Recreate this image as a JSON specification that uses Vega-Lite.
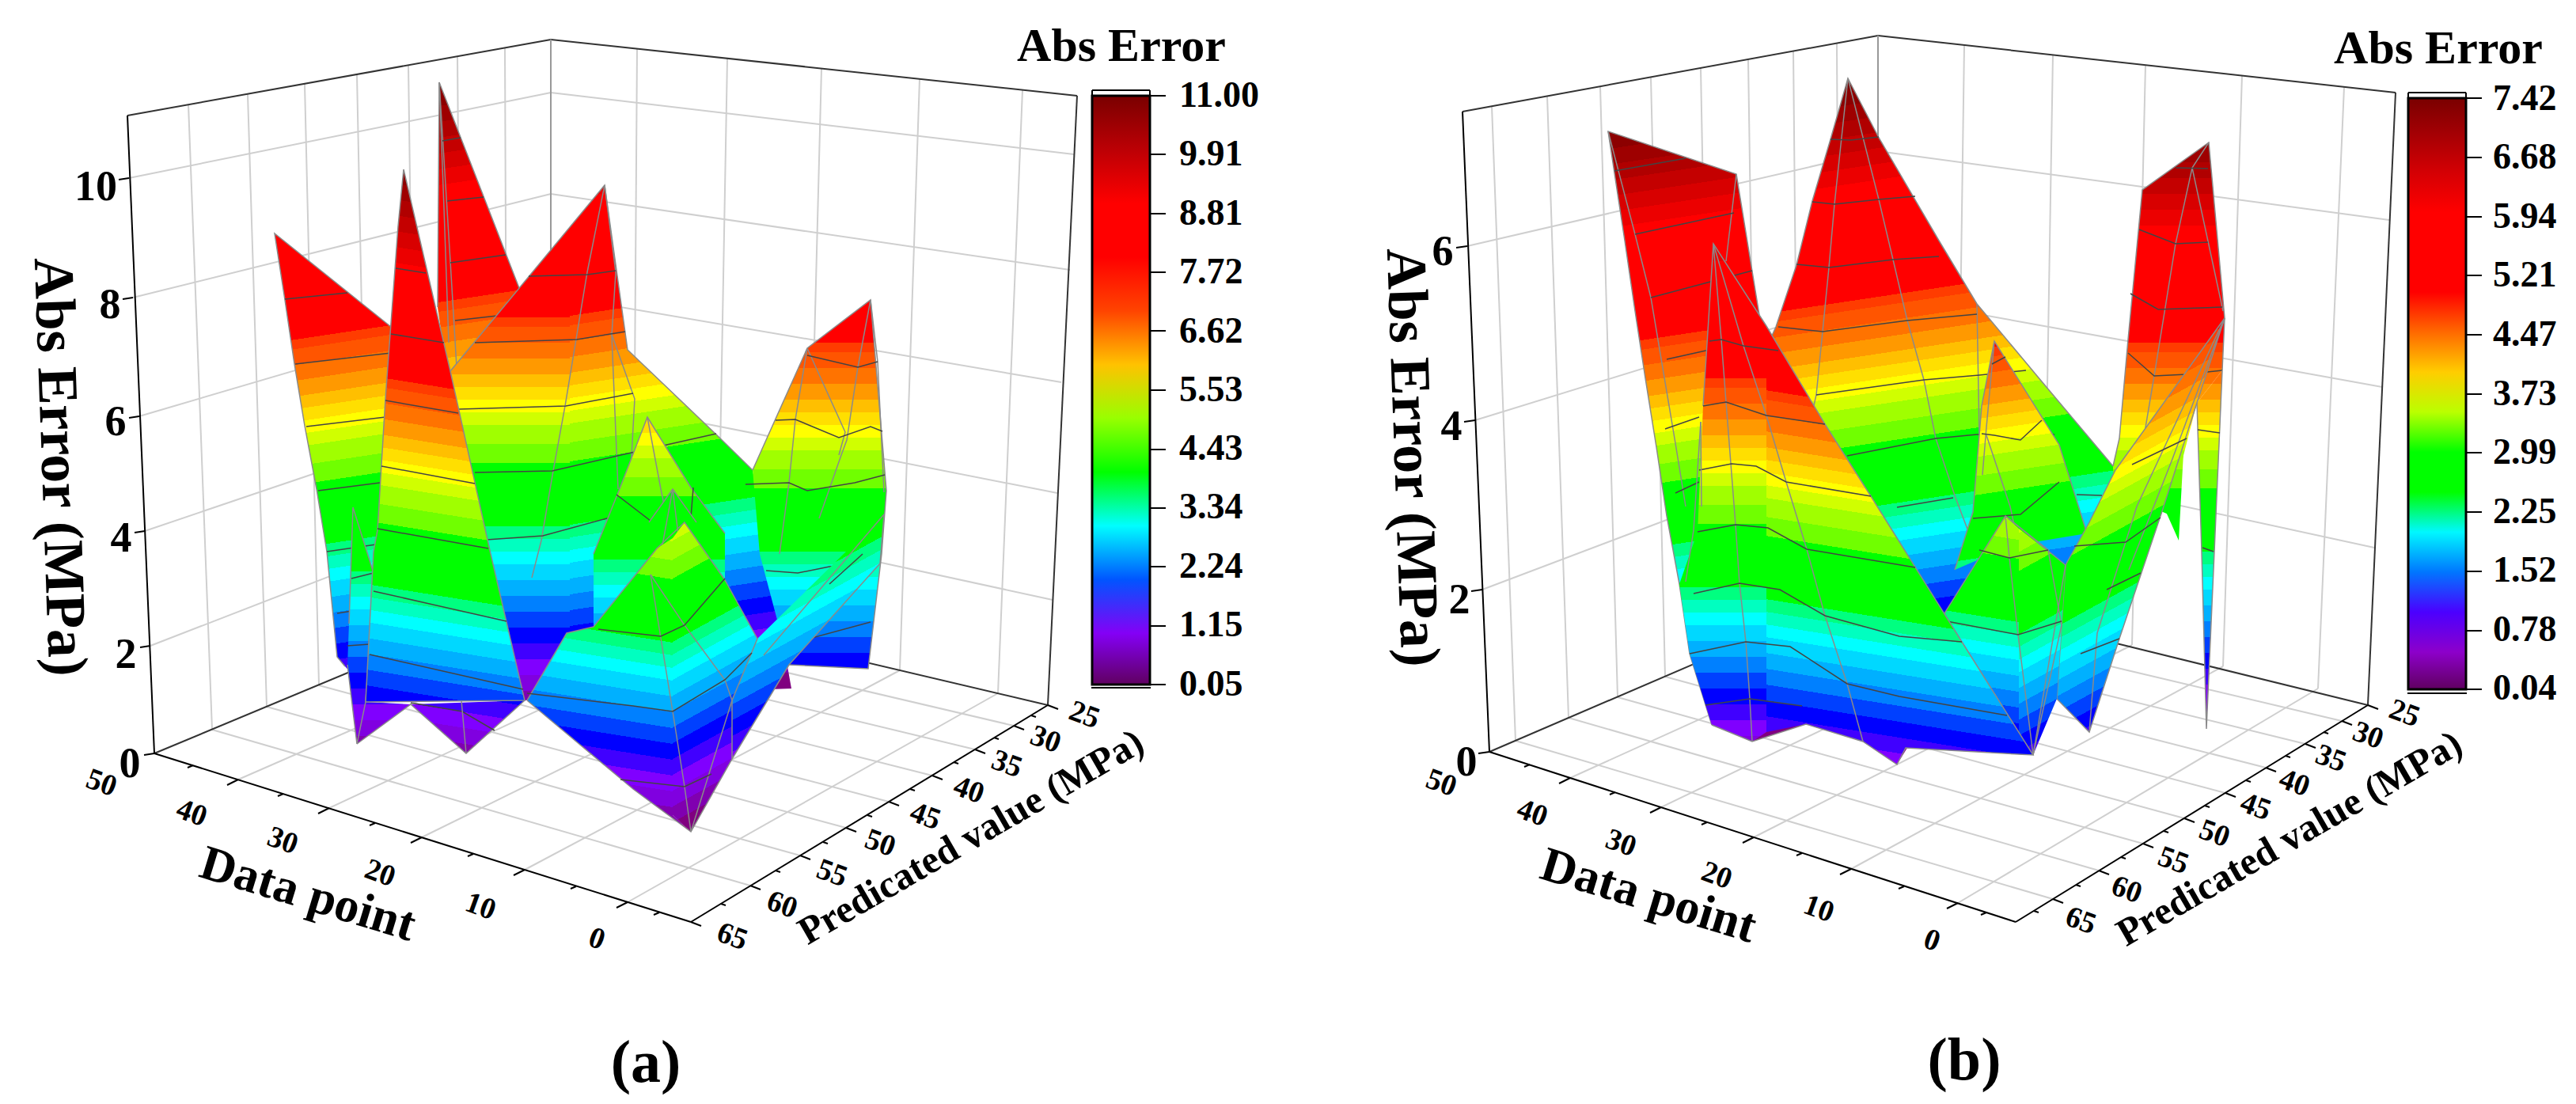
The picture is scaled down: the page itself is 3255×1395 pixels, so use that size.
{"$schema":"https://vega.github.io/schema/vega-lite/v6.json","width":3255,"height":1395,"padding":0,"autosize":{"type":"none"},"background":"white","view":{"stroke":null},
"params":[{"name":"st","expr":"[{offset:0,color:'#7a0000'},{offset:0.025,color:'#7a0000'},{offset:0.025,color:'#8c0000'},{offset:0.05,color:'#8c0000'},{offset:0.05,color:'#9e0000'},{offset:0.075,color:'#9e0000'},{offset:0.075,color:'#b00000'},{offset:0.1,color:'#b00000'},{offset:0.1,color:'#c40000'},{offset:0.125,color:'#c40000'},{offset:0.125,color:'#d80000'},{offset:0.15,color:'#d80000'},{offset:0.15,color:'#ec0000'},{offset:0.175,color:'#ec0000'},{offset:0.175,color:'#ff0000'},{offset:0.36,color:'#ff0000'},{offset:0.36,color:'#ff3c00'},{offset:0.375,color:'#ff3c00'},{offset:0.375,color:'#ff5500'},{offset:0.4,color:'#ff5500'},{offset:0.4,color:'#ff7300'},{offset:0.425,color:'#ff7300'},{offset:0.425,color:'#ff9900'},{offset:0.45,color:'#ff9900'},{offset:0.45,color:'#ffbf00'},{offset:0.47,color:'#ffbf00'},{offset:0.47,color:'#ffdf00'},{offset:0.49,color:'#ffdf00'},{offset:0.49,color:'#ffff00'},{offset:0.51,color:'#ffff00'},{offset:0.51,color:'#d0ff00'},{offset:0.53,color:'#d0ff00'},{offset:0.53,color:'#a0ff00'},{offset:0.56,color:'#a0ff00'},{offset:0.56,color:'#70ff00'},{offset:0.59,color:'#70ff00'},{offset:0.59,color:'#00ff00'},{offset:0.69,color:'#00ff00'},{offset:0.69,color:'#00ff80'},{offset:0.71,color:'#00ff80'},{offset:0.71,color:'#00ffc0'},{offset:0.73,color:'#00ffc0'},{offset:0.73,color:'#00ffff'},{offset:0.75,color:'#00ffff'},{offset:0.75,color:'#00d8ff'},{offset:0.775,color:'#00d8ff'},{offset:0.775,color:'#00b0ff'},{offset:0.8,color:'#00b0ff'},{offset:0.8,color:'#0080ff'},{offset:0.825,color:'#0080ff'},{offset:0.825,color:'#0040ff'},{offset:0.85,color:'#0040ff'},{offset:0.85,color:'#0000ff'},{offset:0.875,color:'#0000ff'},{offset:0.875,color:'#4000ff'},{offset:0.9,color:'#4000ff'},{offset:0.9,color:'#8000ff'},{offset:0.925,color:'#8000ff'},{offset:0.925,color:'#8000e0'},{offset:0.95,color:'#8000e0'},{offset:0.95,color:'#8000b0'},{offset:0.975,color:'#8000b0'},{offset:0.975,color:'#800080'},{offset:1,color:'#800080'}]"}],
"encoding":{"x":{"field":"x","type":"quantitative","scale":{"domain":[0,3255]},"axis":null},"y":{"field":"y","type":"quantitative","scale":{"domain":[1395,0]},"axis":null}},
"layer":[
{"data":{"values":[
{"k":"g","x":163,"y":225,"x2":696,"y2":117},{"k":"g","x":168,"y":376,"x2":696,"y2":245},{"k":"g","x":176,"y":526,"x2":696,"y2":373},{"k":"g","x":183,"y":671,"x2":696,"y2":497},{"k":"g","x":190,"y":816,"x2":696,"y2":620},
{"k":"g","x":696,"y":117,"x2":1357,"y2":195},{"k":"g","x":696,"y":245,"x2":1352,"y2":341},{"k":"g","x":696,"y":373,"x2":1341,"y2":483},{"k":"g","x":696,"y":497,"x2":1336,"y2":623},{"k":"g","x":696,"y":620,"x2":1330,"y2":758},
{"k":"g","x":238,"y":132,"x2":268,"y2":922},{"k":"g","x":313,"y":119,"x2":337,"y2":893},{"k":"g","x":385,"y":106,"x2":403,"y2":866},{"k":"g","x":451,"y":94,"x2":466,"y2":840},{"k":"g","x":516,"y":82,"x2":526,"y2":815},{"k":"g","x":578,"y":71,"x2":584,"y2":791},{"k":"g","x":638,"y":61,"x2":641,"y2":767},
{"k":"g","x":805,"y":62,"x2":800,"y2":767},{"k":"g","x":919,"y":74,"x2":906,"y2":792},{"k":"g","x":1038,"y":87,"x2":1019,"y2":819},{"k":"g","x":1162,"y":100,"x2":1137,"y2":847},{"k":"g","x":1292,"y":114,"x2":1261,"y2":876},
{"k":"g","x":301,"y":985,"x2":800,"y2":767},{"k":"g","x":416,"y":1021,"x2":906,"y2":792},{"k":"g","x":533,"y":1058,"x2":1019,"y2":819},{"k":"g","x":663,"y":1099,"x2":1137,"y2":847},{"k":"g","x":793,"y":1140,"x2":1261,"y2":876},
{"k":"g","x":948,"y":1119,"x2":268,"y2":922},{"k":"g","x":1011,"y":1081,"x2":337,"y2":893},{"k":"g","x":1069,"y":1046,"x2":403,"y2":866},{"k":"g","x":1123,"y":1013,"x2":466,"y2":840},{"k":"g","x":1178,"y":980,"x2":526,"y2":815},{"k":"g","x":1232,"y":947,"x2":584,"y2":791},{"k":"g","x":1281,"y":917,"x2":641,"y2":767},
{"k":"d","x":161,"y":146,"x2":696,"y2":50},{"k":"d","x":696,"y":50,"x2":1361,"y2":121},{"k":"d","x":1361,"y":121,"x2":1324,"y2":891},{"k":"d","x":696,"y":743,"x2":1324,"y2":891},{"k":"d","x":195,"y":952,"x2":696,"y2":743},{"k":"v","x":696,"y":50,"x2":696,"y2":743},
{"k":"b","x":161,"y":146,"x2":195,"y2":952},{"k":"b","x":195,"y":952,"x2":873,"y2":1165},{"k":"b","x":873,"y":1165,"x2":1324,"y2":891},
{"k":"t","x":150,"y":227,"x2":163,"y2":225},{"k":"t","x":155,"y":378,"x2":168,"y2":376},{"k":"t","x":163,"y":528,"x2":176,"y2":526},{"k":"t","x":170,"y":673,"x2":183,"y2":671},{"k":"t","x":177,"y":818,"x2":190,"y2":816},{"k":"t","x":182,"y":954,"x2":195,"y2":952},
{"k":"t","x":301,"y":985,"x2":287,"y2":992},{"k":"t","x":416,"y":1021,"x2":402,"y2":1028},{"k":"t","x":533,"y":1058,"x2":519,"y2":1065},{"k":"t","x":663,"y":1099,"x2":649,"y2":1106},{"k":"t","x":793,"y":1140,"x2":779,"y2":1147},
{"k":"t","x":244,"y":967,"x2":237,"y2":970},{"k":"t","x":358,"y":1003,"x2":351,"y2":1006},{"k":"t","x":474,"y":1040,"x2":467,"y2":1043},{"k":"t","x":598,"y":1079,"x2":591,"y2":1082},{"k":"t","x":728,"y":1120,"x2":721,"y2":1123},{"k":"t","x":833,"y":1153,"x2":826,"y2":1156},
{"k":"t","x":873,"y":1165,"x2":886,"y2":1170},{"k":"t","x":948,"y":1119,"x2":961,"y2":1124},{"k":"t","x":1011,"y":1081,"x2":1024,"y2":1086},{"k":"t","x":1069,"y":1046,"x2":1082,"y2":1051},{"k":"t","x":1123,"y":1013,"x2":1136,"y2":1018},{"k":"t","x":1178,"y":980,"x2":1191,"y2":985},{"k":"t","x":1232,"y":947,"x2":1245,"y2":952},{"k":"t","x":1281,"y":917,"x2":1294,"y2":922},{"k":"t","x":1324,"y":891,"x2":1337,"y2":896},
{"k":"t","x":911,"y":1142,"x2":917,"y2":1144},{"k":"t","x":980,"y":1100,"x2":986,"y2":1102},{"k":"t","x":1040,"y":1064,"x2":1046,"y2":1066},{"k":"t","x":1096,"y":1030,"x2":1102,"y2":1032},{"k":"t","x":1150,"y":997,"x2":1156,"y2":999},{"k":"t","x":1205,"y":963,"x2":1211,"y2":965},{"k":"t","x":1256,"y":932,"x2":1262,"y2":934},{"k":"t","x":1303,"y":904,"x2":1309,"y2":906},
{"k":"t","x":1453,"y":121,"x2":1473,"y2":121},{"k":"t","x":1453,"y":195,"x2":1473,"y2":195},{"k":"t","x":1453,"y":270,"x2":1473,"y2":270},{"k":"t","x":1453,"y":344,"x2":1473,"y2":344},{"k":"t","x":1453,"y":418,"x2":1473,"y2":418},{"k":"t","x":1453,"y":493,"x2":1473,"y2":493},{"k":"t","x":1453,"y":568,"x2":1473,"y2":568},{"k":"t","x":1453,"y":642,"x2":1473,"y2":642},{"k":"t","x":1453,"y":716,"x2":1473,"y2":716},{"k":"t","x":1453,"y":791,"x2":1473,"y2":791},{"k":"t","x":1453,"y":865,"x2":1473,"y2":865},
{"k":"t","x":1380,"y":114,"x2":1453,"y2":114},{"k":"t","x":1380,"y":114,"x2":1380,"y2":121},{"k":"t","x":1453,"y":114,"x2":1453,"y2":121},{"k":"e","x":1379,"y":869,"x2":1454,"y2":869},
{"k":"g","x":1854,"y":311,"x2":2373,"y2":191},{"k":"g","x":1864,"y":531,"x2":2373,"y2":374},{"k":"g","x":1873,"y":745,"x2":2373,"y2":556},
{"k":"g","x":2373,"y":191,"x2":3019,"y2":278},{"k":"g","x":2373,"y":374,"x2":3010,"y2":489},{"k":"g","x":2373,"y":556,"x2":3000,"y2":692},
{"k":"g","x":1885,"y":134,"x2":1915,"y2":936},{"k":"g","x":1955,"y":121,"x2":1982,"y2":907},{"k":"g","x":2022,"y":109,"x2":2044,"y2":881},{"k":"g","x":2086,"y":98,"x2":2104,"y2":855},{"k":"g","x":2149,"y":86,"x2":2163,"y2":830},{"k":"g","x":2209,"y":75,"x2":2220,"y2":806},{"k":"g","x":2266,"y":65,"x2":2273,"y2":783},{"k":"g","x":2321,"y":55,"x2":2325,"y2":761},
{"k":"g","x":2482,"y":57,"x2":2472,"y2":762},{"k":"g","x":2594,"y":69,"x2":2582,"y2":788},{"k":"g","x":2711,"y":82,"x2":2694,"y2":815},{"k":"g","x":2833,"y":95,"x2":2809,"y2":842},{"k":"g","x":2962,"y":110,"x2":2929,"y2":870},
{"k":"g","x":1984,"y":983,"x2":2472,"y2":762},{"k":"g","x":2099,"y":1020,"x2":2582,"y2":788},{"k":"g","x":2216,"y":1058,"x2":2694,"y2":815},{"k":"g","x":2339,"y":1098,"x2":2809,"y2":842},{"k":"g","x":2474,"y":1141,"x2":2929,"y2":870},
{"k":"g","x":2594,"y":1136,"x2":1915,"y2":936},{"k":"g","x":2652,"y":1100,"x2":1982,"y2":907},{"k":"g","x":2708,"y":1066,"x2":2044,"y2":881},{"k":"g","x":2760,"y":1034,"x2":2104,"y2":855},{"k":"g","x":2812,"y":1002,"x2":2163,"y2":830},{"k":"g","x":2863,"y":970,"x2":2220,"y2":806},{"k":"g","x":2913,"y":940,"x2":2273,"y2":783},{"k":"g","x":2959,"y":911,"x2":2325,"y2":761},
{"k":"d","x":1848,"y":141,"x2":2373,"y2":45},{"k":"d","x":2373,"y":45,"x2":3027,"y2":117},{"k":"d","x":3027,"y":117,"x2":2992,"y2":891},{"k":"d","x":2373,"y":739,"x2":2992,"y2":891},{"k":"d","x":1882,"y":950,"x2":2373,"y2":739},{"k":"v","x":2373,"y":45,"x2":2373,"y2":739},
{"k":"b","x":1848,"y":141,"x2":1882,"y2":950},{"k":"b","x":1882,"y":950,"x2":2547,"y2":1165},{"k":"b","x":2547,"y":1165,"x2":2992,"y2":891},
{"k":"t","x":1840,"y":313,"x2":1854,"y2":311},{"k":"t","x":1850,"y":533,"x2":1864,"y2":531},{"k":"t","x":1859,"y":747,"x2":1873,"y2":745},{"k":"t","x":1868,"y":952,"x2":1882,"y2":950},
{"k":"t","x":1984,"y":983,"x2":1970,"y2":990},{"k":"t","x":2099,"y":1020,"x2":2085,"y2":1027},{"k":"t","x":2216,"y":1058,"x2":2202,"y2":1065},{"k":"t","x":2339,"y":1098,"x2":2325,"y2":1105},{"k":"t","x":2474,"y":1141,"x2":2460,"y2":1148},
{"k":"t","x":1933,"y":966,"x2":1926,"y2":969},{"k":"t","x":2041,"y":1001,"x2":2034,"y2":1004},{"k":"t","x":2157,"y":1039,"x2":2150,"y2":1042},{"k":"t","x":2277,"y":1078,"x2":2270,"y2":1081},{"k":"t","x":2406,"y":1120,"x2":2399,"y2":1123},{"k":"t","x":2510,"y":1153,"x2":2503,"y2":1156},
{"k":"t","x":2594,"y":1136,"x2":2607,"y2":1141},{"k":"t","x":2652,"y":1100,"x2":2665,"y2":1105},{"k":"t","x":2708,"y":1066,"x2":2721,"y2":1071},{"k":"t","x":2760,"y":1034,"x2":2773,"y2":1039},{"k":"t","x":2812,"y":1002,"x2":2825,"y2":1007},{"k":"t","x":2863,"y":970,"x2":2876,"y2":975},{"k":"t","x":2913,"y":940,"x2":2926,"y2":945},{"k":"t","x":2959,"y":911,"x2":2972,"y2":916},{"k":"t","x":2992,"y":891,"x2":3005,"y2":896},
{"k":"t","x":2570,"y":1151,"x2":2576,"y2":1153},{"k":"t","x":2623,"y":1118,"x2":2629,"y2":1120},{"k":"t","x":2680,"y":1083,"x2":2686,"y2":1085},{"k":"t","x":2734,"y":1050,"x2":2740,"y2":1052},{"k":"t","x":2786,"y":1018,"x2":2792,"y2":1020},{"k":"t","x":2838,"y":986,"x2":2844,"y2":988},{"k":"t","x":2888,"y":955,"x2":2894,"y2":957},{"k":"t","x":2936,"y":925,"x2":2942,"y2":927},
{"k":"t","x":3116,"y":124,"x2":3136,"y2":124},{"k":"t","x":3116,"y":199,"x2":3136,"y2":199},{"k":"t","x":3116,"y":274,"x2":3136,"y2":274},{"k":"t","x":3116,"y":348,"x2":3136,"y2":348},{"k":"t","x":3116,"y":423,"x2":3136,"y2":423},{"k":"t","x":3116,"y":498,"x2":3136,"y2":498},{"k":"t","x":3116,"y":572,"x2":3136,"y2":572},{"k":"t","x":3116,"y":647,"x2":3136,"y2":647},{"k":"t","x":3116,"y":722,"x2":3136,"y2":722},{"k":"t","x":3116,"y":797,"x2":3136,"y2":797},{"k":"t","x":3116,"y":871,"x2":3136,"y2":871},
{"k":"t","x":3043,"y":117,"x2":3116,"y2":117},{"k":"t","x":3043,"y":117,"x2":3043,"y2":124},{"k":"t","x":3116,"y":117,"x2":3116,"y2":124},{"k":"e","x":3042,"y":876,"x2":3117,"y2":876}
]},"mark":{"type":"rule"},"encoding":{"x2":{"field":"x2"},"y2":{"field":"y2"},
"stroke":{"field":"k","type":"nominal","legend":null,"scale":{"domain":["g","d","v","b","t","e"],"range":["#cfcfcf","#333333","#999999","#000000","#000000","#000000"]}},
"strokeWidth":{"field":"k","type":"nominal","legend":null,"scale":{"domain":["g","d","v","b","t","e"],"range":[2,2,2.5,4,3,9]}}}},
{"data":{"values":[{"z":0.045,"x":1400,"y":865},{"z":11.005,"x":1400,"y":121}]},"mark":{"type":"point","size":0,"filled":true,"opacity":1},"encoding":{"fill":{"field":"z","type":"quantitative","scale":{"domain":[0.045,0.21,1.05,1.71,2.29,3.01,3.39,3.44,4.54,4.89,5.63,6.02,6.40,7.06,7.17,9.03,11,11.005],"range":["#600060","#800080","#8000ff","#0000ff","#0080ff","#00ffff","#00ff80","#00ff00","#00ff00","#80ff00","#ffff00","#ffbf00","#ff8000","#ff3c00","#ff0000","#ff0000","#7a0000","#7a0000"]},"legend":{"orient":"none","legendX":1380,"legendY":121,"gradientLength":744,"gradientThickness":73,"title":null,"values":[0.05,1.15,2.24,3.34,4.43,5.53,6.62,7.72,8.81,9.91,11],"format":".2f","labelFont":"Liberation Serif","labelFontSize":46,"labelFontWeight":"bold","labelColor":"black","labelOffset":37,"gradientStrokeColor":"black","gradientStrokeWidth":3,"labelOverlap":false,"direction":"vertical"}}}},
{"data":{"values":[{"z":0.035,"x":3060,"y":871},{"z":7.425,"x":3060,"y":124}]},"mark":{"type":"point","size":0,"filled":true,"opacity":1},"encoding":{"fill":{"field":"z","type":"quantitative","scale":{"domain":[0.035,0.15,0.71,1.16,1.55,2.03,2.29,2.33,3.07,3.30,3.80,4.06,4.32,4.76,4.84,6.09,7.42,7.425],"range":["#600060","#800080","#8000ff","#0000ff","#0080ff","#00ffff","#00ff80","#00ff00","#00ff00","#80ff00","#ffff00","#ffbf00","#ff8000","#ff3c00","#ff0000","#ff0000","#7a0000","#7a0000"]},"legend":{"orient":"none","legendX":3043,"legendY":124,"gradientLength":747,"gradientThickness":73,"title":null,"values":[0.04,0.78,1.52,2.25,2.99,3.73,4.47,5.21,5.94,6.68,7.42],"format":".2f","labelFont":"Liberation Serif","labelFontSize":46,"labelFontWeight":"bold","labelColor":"black","labelOffset":34,"gradientStrokeColor":"black","gradientStrokeWidth":3,"labelOverlap":false,"direction":"vertical"}}}},
{"data":{"values":[
{"p":1,"k":"R","x":555,"y":104},{"p":1,"k":"R","x":656,"y":364},{"p":1,"k":"R","x":600,"y":470},{"p":1,"k":"R","x":566,"y":480},{"p":1,"k":"R","x":553,"y":388},{"p":1,"k":"R","x":555,"y":104},{"p":1,"k":"R","x":300,"y":-68},{"p":1,"k":"R","x":555,"y":104},{"p":1,"k":"R","x":1500,"y":1132},{"p":1,"k":"R","x":555,"y":104},
{"p":2,"k":"m","x":553,"y":388},{"p":2,"k":"m","x":555,"y":104},{"p":2,"k":"m","x":656,"y":364},
{"p":3,"k":"m","x":555,"y":104},{"p":3,"k":"m","x":561,"y":263},{"p":3,"k":"m","x":567,"y":433},
{"p":4,"k":"m","x":555,"y":104},{"p":4,"k":"m","x":569,"y":330},{"p":4,"k":"m","x":577,"y":464},
{"p":5,"k":"c","x":559,"y":178},{"p":5,"k":"c","x":582,"y":174},
{"p":6,"k":"c","x":565,"y":254},{"p":6,"k":"c","x":611,"y":249},
{"p":7,"k":"c","x":569,"y":332},{"p":7,"k":"c","x":639,"y":322},
{"p":8,"k":"c","x":575,"y":405},{"p":8,"k":"c","x":628,"y":399},
{"p":9,"k":"R","x":347,"y":295},{"p":9,"k":"R","x":494,"y":413},{"p":9,"k":"R","x":500,"y":700},{"p":9,"k":"R","x":470,"y":880},{"p":9,"k":"R","x":436,"y":842},{"p":9,"k":"R","x":426,"y":830},{"p":9,"k":"R","x":413,"y":697},{"p":9,"k":"R","x":400,"y":618},{"p":9,"k":"R","x":385,"y":538},{"p":9,"k":"R","x":372,"y":460},{"p":9,"k":"R","x":360,"y":379},{"p":9,"k":"R","x":347,"y":295},{"p":9,"k":"R","x":300,"y":-48},{"p":9,"k":"R","x":347,"y":295},{"p":9,"k":"R","x":1500,"y":1152},{"p":9,"k":"R","x":347,"y":295},
{"p":10,"k":"m","x":494,"y":413},{"p":10,"k":"m","x":347,"y":295},{"p":10,"k":"m","x":360,"y":379},{"p":10,"k":"m","x":372,"y":460},{"p":10,"k":"m","x":385,"y":538},{"p":10,"k":"m","x":400,"y":618},{"p":10,"k":"m","x":413,"y":697},{"p":10,"k":"m","x":426,"y":830},{"p":10,"k":"m","x":436,"y":842},
{"p":11,"k":"c","x":360,"y":378},{"p":11,"k":"c","x":439,"y":370},
{"p":12,"k":"c","x":373,"y":460},{"p":12,"k":"c","x":494,"y":446},
{"p":13,"k":"c","x":387,"y":539},{"p":13,"k":"c","x":487,"y":527},
{"p":14,"k":"c","x":402,"y":620},{"p":14,"k":"c","x":480,"y":610},
{"p":15,"k":"c","x":413,"y":697},{"p":15,"k":"c","x":475,"y":688},
{"p":16,"k":"c","x":426,"y":775},{"p":16,"k":"c","x":470,"y":768},
{"p":17,"k":"N","x":720,"y":287},{"p":17,"k":"N","x":720,"y":880},{"p":17,"k":"N","x":663,"y":885},{"p":17,"k":"N","x":620,"y":700},{"p":17,"k":"N","x":569,"y":469},{"p":17,"k":"N","x":720,"y":287},{"p":17,"k":"N","x":300,"y":-87},{"p":17,"k":"N","x":720,"y":287},{"p":17,"k":"N","x":1500,"y":1113},{"p":17,"k":"N","x":720,"y":287},
{"p":18,"k":"R","x":764,"y":234},{"p":18,"k":"R","x":793,"y":442},{"p":18,"k":"R","x":905,"y":549},{"p":18,"k":"R","x":951,"y":594},{"p":18,"k":"R","x":1000,"y":870},{"p":18,"k":"R","x":720,"y":880},{"p":18,"k":"R","x":720,"y":287},{"p":18,"k":"R","x":764,"y":234},{"p":18,"k":"R","x":300,"y":-26},{"p":18,"k":"R","x":764,"y":234},{"p":18,"k":"R","x":1500,"y":1174},{"p":18,"k":"R","x":764,"y":234},
{"p":19,"k":"m","x":569,"y":469},{"p":19,"k":"m","x":764,"y":234},{"p":19,"k":"m","x":793,"y":442},{"p":19,"k":"m","x":905,"y":549},{"p":19,"k":"m","x":951,"y":594},
{"p":20,"k":"m","x":764,"y":234},{"p":20,"k":"m","x":742,"y":344},{"p":20,"k":"m","x":714,"y":513},{"p":20,"k":"m","x":699,"y":595},{"p":20,"k":"m","x":684,"y":683},{"p":20,"k":"m","x":672,"y":730},
{"p":21,"k":"m","x":764,"y":234},{"p":21,"k":"m","x":778,"y":344},{"p":21,"k":"m","x":773,"y":424},{"p":21,"k":"m","x":781,"y":618},
{"p":22,"k":"m","x":772,"y":420},{"p":22,"k":"m","x":802,"y":504},{"p":22,"k":"m","x":795,"y":630},
{"p":23,"k":"c","x":668,"y":349},{"p":23,"k":"c","x":742,"y":347},{"p":23,"k":"c","x":778,"y":342},
{"p":24,"k":"c","x":600,"y":433},{"p":24,"k":"c","x":729,"y":429},{"p":24,"k":"c","x":790,"y":419},
{"p":25,"k":"c","x":580,"y":517},{"p":25,"k":"c","x":715,"y":513},{"p":25,"k":"c","x":800,"y":497},
{"p":26,"k":"c","x":600,"y":597},{"p":26,"k":"c","x":698,"y":595},{"p":26,"k":"c","x":780,"y":576},{"p":26,"k":"c","x":905,"y":548},
{"p":27,"k":"c","x":615,"y":682},{"p":27,"k":"c","x":686,"y":677},{"p":27,"k":"c","x":767,"y":655},{"p":27,"k":"c","x":880,"y":640},
{"p":28,"k":"N","x":1100,"y":379},{"p":28,"k":"N","x":1120,"y":620},{"p":28,"k":"N","x":1114,"y":700},{"p":28,"k":"N","x":1097,"y":845},{"p":28,"k":"N","x":997,"y":840},{"p":28,"k":"N","x":960,"y":700},{"p":28,"k":"N","x":951,"y":594},{"p":28,"k":"N","x":1020,"y":440},{"p":28,"k":"N","x":1100,"y":379},{"p":28,"k":"N","x":300,"y":-55},{"p":28,"k":"N","x":1100,"y":379},{"p":28,"k":"N","x":1500,"y":1145},{"p":28,"k":"N","x":1100,"y":379},
{"p":29,"k":"m","x":951,"y":594},{"p":29,"k":"m","x":1020,"y":440},{"p":29,"k":"m","x":1100,"y":379},{"p":29,"k":"m","x":1120,"y":620},{"p":29,"k":"m","x":1114,"y":700},{"p":29,"k":"m","x":1097,"y":845},{"p":29,"k":"m","x":997,"y":840},
{"p":30,"k":"m","x":1100,"y":379},{"p":30,"k":"m","x":1084,"y":464},{"p":30,"k":"m","x":1070,"y":556},{"p":30,"k":"m","x":1063,"y":575},{"p":30,"k":"m","x":1035,"y":655},
{"p":31,"k":"m","x":1100,"y":379},{"p":31,"k":"m","x":1109,"y":457},{"p":31,"k":"m","x":1117,"y":622},
{"p":32,"k":"m","x":1020,"y":440},{"p":32,"k":"m","x":1068,"y":546},{"p":32,"k":"m","x":1060,"y":575},
{"p":33,"k":"m","x":1020,"y":440},{"p":33,"k":"m","x":1005,"y":530},{"p":33,"k":"m","x":997,"y":610},{"p":33,"k":"m","x":985,"y":700},
{"p":34,"k":"c","x":1020,"y":449},{"p":34,"k":"c","x":1084,"y":464},{"p":34,"k":"c","x":1109,"y":457},
{"p":35,"k":"c","x":980,"y":531},{"p":35,"k":"c","x":1005,"y":530},{"p":35,"k":"c","x":1060,"y":553},{"p":35,"k":"c","x":1100,"y":539},{"p":35,"k":"c","x":1115,"y":545},
{"p":36,"k":"c","x":942,"y":612},{"p":36,"k":"c","x":997,"y":610},{"p":36,"k":"c","x":1020,"y":620},{"p":36,"k":"c","x":1080,"y":610},{"p":36,"k":"c","x":1118,"y":600},
{"p":37,"k":"c","x":968,"y":721},{"p":37,"k":"c","x":1008,"y":724},{"p":37,"k":"c","x":1048,"y":716},{"p":37,"k":"c","x":1112,"y":709},
{"p":38,"k":"c","x":1008,"y":811},{"p":38,"k":"c","x":1100,"y":786},
{"p":39,"k":"N","x":446,"y":641},{"p":39,"k":"N","x":472,"y":724},{"p":39,"k":"N","x":467,"y":814},{"p":39,"k":"N","x":462,"y":887},{"p":39,"k":"N","x":519,"y":890},{"p":39,"k":"N","x":451,"y":940},{"p":39,"k":"N","x":439,"y":840},{"p":39,"k":"N","x":441,"y":788},{"p":39,"k":"N","x":446,"y":641},{"p":39,"k":"N","x":300,"y":-30},{"p":39,"k":"N","x":446,"y":641},{"p":39,"k":"N","x":1500,"y":1170},{"p":39,"k":"N","x":446,"y":641},
{"p":40,"k":"m","x":441,"y":788},{"p":40,"k":"m","x":446,"y":641},{"p":40,"k":"m","x":472,"y":724},{"p":40,"k":"m","x":467,"y":814},{"p":40,"k":"m","x":462,"y":887},{"p":40,"k":"m","x":451,"y":940},{"p":40,"k":"m","x":439,"y":840},
{"p":41,"k":"c","x":444,"y":731},{"p":41,"k":"c","x":472,"y":724},
{"p":42,"k":"c","x":439,"y":816},{"p":42,"k":"c","x":467,"y":814},
{"p":43,"k":"F","x":519,"y":890},{"p":43,"k":"F","x":663,"y":885},{"p":43,"k":"F","x":589,"y":952},{"p":43,"k":"F","x":519,"y":890},{"p":43,"k":"F","x":300,"y":-66},{"p":43,"k":"F","x":519,"y":890},{"p":43,"k":"F","x":1500,"y":1134},{"p":43,"k":"F","x":519,"y":890},
{"p":44,"k":"m","x":451,"y":940},{"p":44,"k":"m","x":519,"y":890},{"p":44,"k":"m","x":589,"y":952},{"p":44,"k":"m","x":663,"y":885},
{"p":45,"k":"c","x":519,"y":888},{"p":45,"k":"c","x":584,"y":899},{"p":45,"k":"c","x":625,"y":923},
{"p":46,"k":"m","x":583,"y":885},{"p":46,"k":"m","x":589,"y":952},
{"p":47,"k":"F","x":510,"y":214},{"p":47,"k":"F","x":569,"y":469},{"p":47,"k":"F","x":620,"y":700},{"p":47,"k":"F","x":663,"y":885},{"p":47,"k":"F","x":462,"y":887},{"p":47,"k":"F","x":472,"y":697},{"p":47,"k":"F","x":477,"y":670},{"p":47,"k":"F","x":487,"y":504},{"p":47,"k":"F","x":503,"y":286},{"p":47,"k":"F","x":510,"y":214},{"p":47,"k":"F","x":300,"y":-40},{"p":47,"k":"F","x":510,"y":214},{"p":47,"k":"F","x":1500,"y":1160},{"p":47,"k":"F","x":510,"y":214},
{"p":48,"k":"m","x":510,"y":214},{"p":48,"k":"m","x":569,"y":469},{"p":48,"k":"m","x":620,"y":700},{"p":48,"k":"m","x":663,"y":885},{"p":48,"k":"m","x":462,"y":887},{"p":48,"k":"m","x":472,"y":697},{"p":48,"k":"m","x":477,"y":670},{"p":48,"k":"m","x":487,"y":504},{"p":48,"k":"m","x":503,"y":286},{"p":48,"k":"m","x":510,"y":214},
{"p":49,"k":"c","x":500,"y":339},{"p":49,"k":"c","x":538,"y":345},
{"p":50,"k":"c","x":494,"y":422},{"p":50,"k":"c","x":561,"y":433},
{"p":51,"k":"c","x":487,"y":506},{"p":51,"k":"c","x":579,"y":522},
{"p":52,"k":"c","x":482,"y":589},{"p":52,"k":"c","x":600,"y":611},
{"p":53,"k":"c","x":477,"y":668},{"p":53,"k":"c","x":617,"y":693},
{"p":54,"k":"c","x":472,"y":747},{"p":54,"k":"c","x":640,"y":785},
{"p":55,"k":"c","x":467,"y":827},{"p":55,"k":"c","x":661,"y":871},
{"p":56,"k":"N","x":818,"y":527},{"p":56,"k":"N","x":873,"y":616},{"p":56,"k":"N","x":916,"y":674},{"p":56,"k":"N","x":916,"y":760},{"p":56,"k":"N","x":850,"y":900},{"p":56,"k":"N","x":750,"y":900},{"p":56,"k":"N","x":750,"y":700},{"p":56,"k":"N","x":782,"y":620},{"p":56,"k":"N","x":818,"y":527},{"p":56,"k":"N","x":300,"y":-45},{"p":56,"k":"N","x":818,"y":527},{"p":56,"k":"N","x":1500,"y":1155},{"p":56,"k":"N","x":818,"y":527},
{"p":57,"k":"m","x":750,"y":700},{"p":57,"k":"m","x":782,"y":620},{"p":57,"k":"m","x":818,"y":527},{"p":57,"k":"m","x":873,"y":616},{"p":57,"k":"m","x":916,"y":674},
{"p":58,"k":"c","x":779,"y":625},{"p":58,"k":"c","x":822,"y":658},{"p":58,"k":"c","x":873,"y":654},{"p":58,"k":"c","x":876,"y":616},
{"p":59,"k":"m","x":818,"y":527},{"p":59,"k":"m","x":835,"y":618},{"p":59,"k":"m","x":850,"y":690},
{"p":60,"k":"N","x":850,"y":618},{"p":60,"k":"N","x":880,"y":660},{"p":60,"k":"N","x":873,"y":700},{"p":60,"k":"N","x":830,"y":700},{"p":60,"k":"N","x":820,"y":660},{"p":60,"k":"N","x":850,"y":618},{"p":60,"k":"N","x":300,"y":-50},{"p":60,"k":"N","x":850,"y":618},{"p":60,"k":"N","x":1500,"y":1150},{"p":60,"k":"N","x":850,"y":618},
{"p":61,"k":"m","x":820,"y":660},{"p":61,"k":"m","x":850,"y":618},{"p":61,"k":"m","x":880,"y":660},
{"p":62,"k":"m","x":850,"y":618},{"p":62,"k":"m","x":835,"y":700},
{"p":63,"k":"m","x":850,"y":618},{"p":63,"k":"m","x":860,"y":700},
{"p":64,"k":"S","x":925,"y":885},{"p":64,"k":"S","x":957,"y":807},{"p":64,"k":"S","x":1117,"y":650},{"p":64,"k":"S","x":1112,"y":712},{"p":64,"k":"S","x":997,"y":840},{"p":64,"k":"S","x":925,"y":959},{"p":64,"k":"S","x":925,"y":885},{"p":64,"k":"S","x":920,"y":33},{"p":64,"k":"S","x":925,"y":885},{"p":64,"k":"S","x":2120,"y":1233},{"p":64,"k":"S","x":925,"y":885},
{"p":65,"k":"m","x":965,"y":828},{"p":65,"k":"m","x":1117,"y":650},{"p":65,"k":"m","x":1112,"y":712},{"p":65,"k":"m","x":997,"y":840},{"p":65,"k":"m","x":925,"y":959},
{"p":66,"k":"c","x":1048,"y":738},{"p":66,"k":"c","x":1090,"y":700},
{"p":67,"k":"F","x":666,"y":885},{"p":67,"k":"F","x":716,"y":800},{"p":67,"k":"F","x":750,"y":792},{"p":67,"k":"F","x":830,"y":693},{"p":67,"k":"F","x":850,"y":680},{"p":67,"k":"F","x":850,"y":1030},{"p":67,"k":"F","x":873,"y":1051},{"p":67,"k":"F","x":800,"y":997},{"p":67,"k":"F","x":666,"y":885},{"p":67,"k":"F","x":300,"y":-28},{"p":67,"k":"F","x":666,"y":885},{"p":67,"k":"F","x":1500,"y":1172},{"p":67,"k":"F","x":666,"y":885},
{"p":68,"k":"S","x":850,"y":680},{"p":68,"k":"S","x":865,"y":660},{"p":68,"k":"S","x":916,"y":733},{"p":68,"k":"S","x":957,"y":807},{"p":68,"k":"S","x":925,"y":885},{"p":68,"k":"S","x":925,"y":959},{"p":68,"k":"S","x":873,"y":1051},{"p":68,"k":"S","x":850,"y":1030},{"p":68,"k":"S","x":850,"y":680},{"p":68,"k":"S","x":850,"y":59},{"p":68,"k":"S","x":850,"y":680},{"p":68,"k":"S","x":2050,"y":1259},{"p":68,"k":"S","x":850,"y":680},
{"p":69,"k":"m","x":666,"y":885},{"p":69,"k":"m","x":716,"y":800},{"p":69,"k":"m","x":750,"y":792},{"p":69,"k":"m","x":830,"y":693},{"p":69,"k":"m","x":865,"y":660},{"p":69,"k":"m","x":916,"y":733},{"p":69,"k":"m","x":957,"y":807},{"p":69,"k":"m","x":925,"y":885},{"p":69,"k":"m","x":925,"y":959},{"p":69,"k":"m","x":873,"y":1051},{"p":69,"k":"m","x":800,"y":997},{"p":69,"k":"m","x":666,"y":885},
{"p":70,"k":"m","x":822,"y":726},{"p":70,"k":"m","x":850,"y":899},{"p":70,"k":"m","x":865,"y":994},{"p":70,"k":"m","x":873,"y":1051},
{"p":71,"k":"m","x":865,"y":790},{"p":71,"k":"m","x":916,"y":859},{"p":71,"k":"m","x":925,"y":885},{"p":71,"k":"m","x":873,"y":1051},
{"p":72,"k":"m","x":822,"y":726},{"p":72,"k":"m","x":865,"y":790},
{"p":73,"k":"c","x":666,"y":876},{"p":73,"k":"c","x":800,"y":892},{"p":73,"k":"c","x":850,"y":899},{"p":73,"k":"c","x":916,"y":859},{"p":73,"k":"c","x":950,"y":825},
{"p":74,"k":"c","x":784,"y":985},{"p":74,"k":"c","x":865,"y":994},{"p":74,"k":"c","x":899,"y":978},
{"p":75,"k":"c","x":756,"y":795},{"p":75,"k":"c","x":835,"y":804},{"p":75,"k":"c","x":865,"y":790},{"p":75,"k":"c","x":916,"y":731},
{"p":101,"k":"R","x":2032,"y":166},{"p":101,"k":"R","x":2194,"y":220},{"p":101,"k":"R","x":2224,"y":404},{"p":101,"k":"R","x":2300,"y":700},{"p":101,"k":"R","x":2410,"y":945},{"p":101,"k":"R","x":2397,"y":966},{"p":101,"k":"R","x":2354,"y":937},{"p":101,"k":"R","x":2282,"y":915},{"p":101,"k":"R","x":2214,"y":937},{"p":101,"k":"R","x":2163,"y":916},{"p":101,"k":"R","x":2135,"y":826},{"p":101,"k":"R","x":2122,"y":738},{"p":101,"k":"R","x":2106,"y":652},{"p":101,"k":"R","x":2093,"y":565},{"p":101,"k":"R","x":2079,"y":478},{"p":101,"k":"R","x":2066,"y":393},{"p":101,"k":"R","x":2053,"y":304},{"p":101,"k":"R","x":2032,"y":166},{"p":101,"k":"R","x":1900,"y":-32},{"p":101,"k":"R","x":2032,"y":166},{"p":101,"k":"R","x":3100,"y":1168},{"p":101,"k":"R","x":2032,"y":166},
{"p":102,"k":"m","x":2224,"y":404},{"p":102,"k":"m","x":2194,"y":220},{"p":102,"k":"m","x":2032,"y":166},{"p":102,"k":"m","x":2053,"y":304},{"p":102,"k":"m","x":2066,"y":393},{"p":102,"k":"m","x":2079,"y":478},{"p":102,"k":"m","x":2093,"y":565},{"p":102,"k":"m","x":2106,"y":652},{"p":102,"k":"m","x":2122,"y":738},{"p":102,"k":"m","x":2135,"y":826},{"p":102,"k":"m","x":2163,"y":916},
{"p":103,"k":"m","x":2032,"y":166},{"p":103,"k":"m","x":2066,"y":296},{"p":103,"k":"m","x":2086,"y":376},{"p":103,"k":"m","x":2117,"y":560},{"p":103,"k":"m","x":2130,"y":640},
{"p":104,"k":"m","x":2194,"y":220},{"p":104,"k":"m","x":2181,"y":330},
{"p":105,"k":"c","x":2040,"y":216},{"p":105,"k":"c","x":2130,"y":200},
{"p":106,"k":"c","x":2066,"y":296},{"p":106,"k":"c","x":2191,"y":269},
{"p":107,"k":"c","x":2086,"y":376},{"p":107,"k":"c","x":2214,"y":342},
{"p":108,"k":"c","x":2106,"y":454},{"p":108,"k":"c","x":2160,"y":442},
{"p":109,"k":"c","x":2104,"y":542},{"p":109,"k":"c","x":2147,"y":527},
{"p":110,"k":"c","x":2117,"y":623},{"p":110,"k":"c","x":2147,"y":609},
{"p":111,"k":"R","x":2335,"y":99},{"p":111,"k":"R","x":2374,"y":174},{"p":111,"k":"R","x":2450,"y":304},{"p":111,"k":"R","x":2498,"y":384},{"p":111,"k":"R","x":2574,"y":475},{"p":111,"k":"R","x":2670,"y":589},{"p":111,"k":"R","x":2700,"y":700},{"p":111,"k":"R","x":2640,"y":860},{"p":111,"k":"R","x":2350,"y":900},{"p":111,"k":"R","x":2229,"y":446},{"p":111,"k":"R","x":2244,"y":413},{"p":111,"k":"R","x":2270,"y":335},{"p":111,"k":"R","x":2290,"y":254},{"p":111,"k":"R","x":2313,"y":176},{"p":111,"k":"R","x":2335,"y":99},{"p":111,"k":"R","x":1900,"y":-42},{"p":111,"k":"R","x":2335,"y":99},{"p":111,"k":"R","x":3100,"y":1158},{"p":111,"k":"R","x":2335,"y":99},
{"p":112,"k":"m","x":2229,"y":446},{"p":112,"k":"m","x":2244,"y":413},{"p":112,"k":"m","x":2270,"y":335},{"p":112,"k":"m","x":2290,"y":254},{"p":112,"k":"m","x":2313,"y":176},{"p":112,"k":"m","x":2335,"y":99},{"p":112,"k":"m","x":2374,"y":174},{"p":112,"k":"m","x":2450,"y":304},{"p":112,"k":"m","x":2498,"y":384},{"p":112,"k":"m","x":2574,"y":475},{"p":112,"k":"m","x":2670,"y":589},
{"p":113,"k":"m","x":2335,"y":99},{"p":113,"k":"m","x":2318,"y":258},{"p":113,"k":"m","x":2311,"y":338},{"p":113,"k":"m","x":2303,"y":419},{"p":113,"k":"m","x":2295,"y":499},{"p":113,"k":"m","x":2272,"y":600},
{"p":114,"k":"m","x":2335,"y":99},{"p":114,"k":"m","x":2374,"y":252},{"p":114,"k":"m","x":2392,"y":328},{"p":114,"k":"m","x":2410,"y":405},{"p":114,"k":"m","x":2431,"y":480},{"p":114,"k":"m","x":2446,"y":554},{"p":114,"k":"m","x":2471,"y":629},{"p":114,"k":"m","x":2498,"y":700},
{"p":115,"k":"m","x":2498,"y":384},{"p":115,"k":"m","x":2501,"y":549},{"p":115,"k":"m","x":2504,"y":700},
{"p":116,"k":"c","x":2313,"y":176},{"p":116,"k":"c","x":2339,"y":177},{"p":116,"k":"c","x":2374,"y":173},
{"p":117,"k":"c","x":2290,"y":255},{"p":117,"k":"c","x":2318,"y":258},{"p":117,"k":"c","x":2374,"y":252},{"p":117,"k":"c","x":2420,"y":248},
{"p":118,"k":"c","x":2270,"y":334},{"p":118,"k":"c","x":2311,"y":338},{"p":118,"k":"c","x":2392,"y":328},{"p":118,"k":"c","x":2450,"y":324},
{"p":119,"k":"c","x":2247,"y":413},{"p":119,"k":"c","x":2303,"y":419},{"p":119,"k":"c","x":2410,"y":405},{"p":119,"k":"c","x":2498,"y":397},
{"p":120,"k":"c","x":2295,"y":499},{"p":120,"k":"c","x":2431,"y":480},{"p":120,"k":"c","x":2501,"y":474},{"p":120,"k":"c","x":2560,"y":468},
{"p":121,"k":"c","x":2334,"y":576},{"p":121,"k":"c","x":2446,"y":554},{"p":121,"k":"c","x":2498,"y":549},{"p":121,"k":"c","x":2596,"y":549},
{"p":122,"k":"c","x":2397,"y":641},{"p":122,"k":"c","x":2468,"y":629},
{"p":123,"k":"c","x":2624,"y":625},{"p":123,"k":"c","x":2656,"y":626},
{"p":124,"k":"N","x":2707,"y":240},{"p":124,"k":"N","x":2791,"y":180},{"p":124,"k":"N","x":2811,"y":402},{"p":124,"k":"N","x":2808,"y":468},{"p":124,"k":"N","x":2776,"y":509},{"p":124,"k":"N","x":2740,"y":650},{"p":124,"k":"N","x":2670,"y":620},{"p":124,"k":"N","x":2670,"y":589},{"p":124,"k":"N","x":2678,"y":554},{"p":124,"k":"N","x":2689,"y":429},{"p":124,"k":"N","x":2707,"y":240},{"p":124,"k":"N","x":1900,"y":-55},{"p":124,"k":"N","x":2707,"y":240},{"p":124,"k":"N","x":3100,"y":1145},{"p":124,"k":"N","x":2707,"y":240},
{"p":125,"k":"m","x":2670,"y":589},{"p":125,"k":"m","x":2678,"y":554},{"p":125,"k":"m","x":2689,"y":429},{"p":125,"k":"m","x":2707,"y":240},{"p":125,"k":"m","x":2791,"y":180},{"p":125,"k":"m","x":2811,"y":402},{"p":125,"k":"m","x":2808,"y":468},
{"p":126,"k":"m","x":2791,"y":180},{"p":126,"k":"m","x":2770,"y":212},{"p":126,"k":"m","x":2749,"y":308},{"p":126,"k":"m","x":2722,"y":475},{"p":126,"k":"m","x":2708,"y":558},
{"p":127,"k":"m","x":2770,"y":212},{"p":127,"k":"m","x":2809,"y":393},
{"p":128,"k":"c","x":2749,"y":212},{"p":128,"k":"c","x":2790,"y":213},
{"p":129,"k":"c","x":2703,"y":290},{"p":129,"k":"c","x":2749,"y":308},{"p":129,"k":"c","x":2790,"y":306},
{"p":130,"k":"c","x":2692,"y":371},{"p":130,"k":"c","x":2727,"y":391},{"p":130,"k":"c","x":2808,"y":388},
{"p":131,"k":"c","x":2689,"y":446},{"p":131,"k":"c","x":2722,"y":475},{"p":131,"k":"c","x":2763,"y":473},{"p":131,"k":"c","x":2808,"y":468},
{"p":132,"k":"N","x":2760,"y":554},{"p":132,"k":"N","x":2753,"y":683},{"p":132,"k":"N","x":2737,"y":647},{"p":132,"k":"N","x":2760,"y":554},{"p":132,"k":"N","x":1900,"y":-55},{"p":132,"k":"N","x":2760,"y":554},{"p":132,"k":"N","x":3100,"y":1145},{"p":132,"k":"N","x":2760,"y":554},
{"p":133,"k":"N","x":2776,"y":509},{"p":133,"k":"N","x":2808,"y":468},{"p":133,"k":"N","x":2805,"y":547},{"p":133,"k":"N","x":2801,"y":625},{"p":133,"k":"N","x":2798,"y":697},{"p":133,"k":"N","x":2788,"y":921},{"p":133,"k":"N","x":2782,"y":697},{"p":133,"k":"N","x":2776,"y":509},{"p":133,"k":"N","x":1900,"y":-55},{"p":133,"k":"N","x":2776,"y":509},{"p":133,"k":"N","x":3100,"y":1145},{"p":133,"k":"N","x":2776,"y":509},
{"p":134,"k":"m","x":2776,"y":509},{"p":134,"k":"m","x":2782,"y":697},{"p":134,"k":"m","x":2788,"y":921},{"p":134,"k":"m","x":2798,"y":697},{"p":134,"k":"m","x":2808,"y":468},
{"p":135,"k":"c","x":2777,"y":543},{"p":135,"k":"c","x":2805,"y":547},
{"p":136,"k":"c","x":2783,"y":692},{"p":136,"k":"c","x":2797,"y":697},
{"p":137,"k":"R","x":2520,"y":431},{"p":137,"k":"R","x":2602,"y":562},{"p":137,"k":"R","x":2637,"y":674},{"p":137,"k":"R","x":2540,"y":690},{"p":137,"k":"R","x":2470,"y":720},{"p":137,"k":"R","x":2493,"y":647},{"p":137,"k":"R","x":2504,"y":513},{"p":137,"k":"R","x":2520,"y":431},{"p":137,"k":"R","x":1900,"y":43},{"p":137,"k":"R","x":2520,"y":431},{"p":137,"k":"R","x":3100,"y":1243},{"p":137,"k":"R","x":2520,"y":431},
{"p":138,"k":"m","x":2470,"y":720},{"p":138,"k":"m","x":2493,"y":647},{"p":138,"k":"m","x":2504,"y":513},{"p":138,"k":"m","x":2520,"y":431},{"p":138,"k":"m","x":2602,"y":562},{"p":138,"k":"m","x":2637,"y":674},
{"p":139,"k":"m","x":2520,"y":431},{"p":139,"k":"m","x":2510,"y":540},{"p":139,"k":"m","x":2505,"y":600},
{"p":140,"k":"m","x":2510,"y":550},{"p":140,"k":"m","x":2540,"y":640},{"p":140,"k":"m","x":2553,"y":700},
{"p":141,"k":"c","x":2517,"y":460},{"p":141,"k":"c","x":2534,"y":451},
{"p":142,"k":"c","x":2504,"y":548},{"p":142,"k":"c","x":2520,"y":550},{"p":142,"k":"c","x":2553,"y":556},{"p":142,"k":"c","x":2580,"y":531},
{"p":143,"k":"c","x":2493,"y":655},{"p":143,"k":"c","x":2553,"y":650},{"p":143,"k":"c","x":2602,"y":609},
{"p":144,"k":"S","x":2811,"y":402},{"p":144,"k":"S","x":2776,"y":509},{"p":144,"k":"S","x":2733,"y":643},{"p":144,"k":"S","x":2678,"y":807},{"p":144,"k":"S","x":2640,"y":925},{"p":144,"k":"S","x":2599,"y":883},{"p":144,"k":"S","x":2610,"y":714},{"p":144,"k":"S","x":2640,"y":660},{"p":144,"k":"S","x":2673,"y":594},{"p":144,"k":"S","x":2811,"y":402},{"p":144,"k":"S","x":2590,"y":45},{"p":144,"k":"S","x":2811,"y":402},{"p":144,"k":"S","x":3790,"y":1245},{"p":144,"k":"S","x":2811,"y":402},
{"p":145,"k":"m","x":2811,"y":402},{"p":145,"k":"m","x":2776,"y":509},{"p":145,"k":"m","x":2733,"y":643},{"p":145,"k":"m","x":2678,"y":807},{"p":145,"k":"m","x":2640,"y":925},{"p":145,"k":"m","x":2599,"y":883},{"p":145,"k":"m","x":2610,"y":714},{"p":145,"k":"m","x":2640,"y":660},{"p":145,"k":"m","x":2673,"y":594},{"p":145,"k":"m","x":2811,"y":402},
{"p":146,"k":"m","x":2811,"y":402},{"p":146,"k":"m","x":2700,"y":640},{"p":146,"k":"m","x":2650,"y":800},{"p":146,"k":"m","x":2640,"y":925},
{"p":147,"k":"m","x":2811,"y":402},{"p":147,"k":"m","x":2745,"y":580},{"p":147,"k":"m","x":2690,"y":720},
{"p":148,"k":"c","x":2694,"y":587},{"p":148,"k":"c","x":2738,"y":566},{"p":148,"k":"c","x":2763,"y":554},
{"p":149,"k":"c","x":2621,"y":690},{"p":149,"k":"c","x":2686,"y":685},{"p":149,"k":"c","x":2730,"y":654},
{"p":150,"k":"c","x":2662,"y":745},{"p":150,"k":"c","x":2705,"y":724},
{"p":151,"k":"c","x":2629,"y":826},{"p":151,"k":"c","x":2678,"y":807},
{"p":152,"k":"F","x":2534,"y":652},{"p":152,"k":"F","x":2551,"y":668},{"p":152,"k":"F","x":2551,"y":925},{"p":152,"k":"F","x":2457,"y":775},{"p":152,"k":"F","x":2534,"y":652},{"p":152,"k":"F","x":1900,"y":-70},{"p":152,"k":"F","x":2534,"y":652},{"p":152,"k":"F","x":3100,"y":1130},{"p":152,"k":"F","x":2534,"y":652},
{"p":153,"k":"S","x":2551,"y":668},{"p":153,"k":"S","x":2610,"y":714},{"p":153,"k":"S","x":2599,"y":883},{"p":153,"k":"S","x":2569,"y":954},{"p":153,"k":"S","x":2551,"y":925},{"p":153,"k":"S","x":2551,"y":668},{"p":153,"k":"S","x":2550,"y":50},{"p":153,"k":"S","x":2551,"y":668},{"p":153,"k":"S","x":3750,"y":1250},{"p":153,"k":"S","x":2551,"y":668},
{"p":154,"k":"m","x":2457,"y":775},{"p":154,"k":"m","x":2534,"y":652},{"p":154,"k":"m","x":2610,"y":714},{"p":154,"k":"m","x":2569,"y":954},
{"p":155,"k":"m","x":2534,"y":652},{"p":155,"k":"m","x":2539,"y":705},{"p":155,"k":"m","x":2550,"y":802},{"p":155,"k":"m","x":2569,"y":954},
{"p":156,"k":"m","x":2534,"y":652},{"p":156,"k":"m","x":2588,"y":695},{"p":156,"k":"m","x":2605,"y":790},{"p":156,"k":"m","x":2569,"y":954},
{"p":157,"k":"c","x":2501,"y":695},{"p":157,"k":"c","x":2539,"y":705},{"p":157,"k":"c","x":2588,"y":695},
{"p":158,"k":"c","x":2460,"y":785},{"p":158,"k":"c","x":2550,"y":802},{"p":158,"k":"c","x":2605,"y":785},
{"p":159,"k":"N","x":2165,"y":308},{"p":159,"k":"N","x":2232,"y":412},{"p":159,"k":"N","x":2232,"y":925},{"p":159,"k":"N","x":2214,"y":937},{"p":159,"k":"N","x":2163,"y":916},{"p":159,"k":"N","x":2135,"y":826},{"p":159,"k":"N","x":2122,"y":738},{"p":159,"k":"N","x":2145,"y":672},{"p":159,"k":"N","x":2152,"y":513},{"p":159,"k":"N","x":2165,"y":308},{"p":159,"k":"N","x":1900,"y":-10},{"p":159,"k":"N","x":2165,"y":308},{"p":159,"k":"N","x":3100,"y":1190},{"p":159,"k":"N","x":2165,"y":308},
{"p":160,"k":"F","x":2232,"y":412},{"p":160,"k":"F","x":2306,"y":536},{"p":160,"k":"F","x":2364,"y":627},{"p":160,"k":"F","x":2479,"y":811},{"p":160,"k":"F","x":2569,"y":954},{"p":160,"k":"F","x":2408,"y":945},{"p":160,"k":"F","x":2397,"y":966},{"p":160,"k":"F","x":2354,"y":937},{"p":160,"k":"F","x":2282,"y":915},{"p":160,"k":"F","x":2232,"y":925},{"p":160,"k":"F","x":2232,"y":412},{"p":160,"k":"F","x":1900,"y":-48},{"p":160,"k":"F","x":2232,"y":412},{"p":160,"k":"F","x":3100,"y":1152},{"p":160,"k":"F","x":2232,"y":412},
{"p":161,"k":"m","x":2152,"y":513},{"p":161,"k":"m","x":2165,"y":308},{"p":161,"k":"m","x":2232,"y":412},{"p":161,"k":"m","x":2306,"y":536},{"p":161,"k":"m","x":2364,"y":627},{"p":161,"k":"m","x":2479,"y":811},{"p":161,"k":"m","x":2569,"y":954},{"p":161,"k":"m","x":2408,"y":945},{"p":161,"k":"m","x":2397,"y":966},{"p":161,"k":"m","x":2354,"y":937},{"p":161,"k":"m","x":2282,"y":915},{"p":161,"k":"m","x":2214,"y":937},{"p":161,"k":"m","x":2163,"y":916},
{"p":162,"k":"m","x":2165,"y":308},{"p":162,"k":"m","x":2175,"y":429},{"p":162,"k":"m","x":2181,"y":508},{"p":162,"k":"m","x":2193,"y":663},{"p":162,"k":"m","x":2198,"y":737},{"p":162,"k":"m","x":2206,"y":811},{"p":162,"k":"m","x":2211,"y":883},{"p":162,"k":"m","x":2214,"y":937},
{"p":163,"k":"m","x":2165,"y":308},{"p":163,"k":"m","x":2203,"y":437},{"p":163,"k":"m","x":2232,"y":525},{"p":163,"k":"m","x":2257,"y":609},{"p":163,"k":"m","x":2283,"y":694},{"p":163,"k":"m","x":2306,"y":778},{"p":163,"k":"m","x":2334,"y":864},{"p":163,"k":"m","x":2354,"y":937},
{"p":164,"k":"c","x":2160,"y":431},{"p":164,"k":"c","x":2175,"y":429},{"p":164,"k":"c","x":2203,"y":437},{"p":164,"k":"c","x":2247,"y":443},
{"p":165,"k":"c","x":2152,"y":513},{"p":165,"k":"c","x":2181,"y":508},{"p":165,"k":"c","x":2232,"y":525},{"p":165,"k":"c","x":2306,"y":536},
{"p":166,"k":"c","x":2147,"y":594},{"p":166,"k":"c","x":2188,"y":586},{"p":166,"k":"c","x":2219,"y":589},{"p":166,"k":"c","x":2257,"y":609},{"p":166,"k":"c","x":2364,"y":627},
{"p":167,"k":"c","x":2145,"y":672},{"p":167,"k":"c","x":2193,"y":663},{"p":167,"k":"c","x":2234,"y":667},{"p":167,"k":"c","x":2283,"y":694},{"p":167,"k":"c","x":2420,"y":717},
{"p":168,"k":"c","x":2140,"y":750},{"p":168,"k":"c","x":2198,"y":737},{"p":168,"k":"c","x":2249,"y":745},{"p":168,"k":"c","x":2306,"y":778},{"p":168,"k":"c","x":2400,"y":804},{"p":168,"k":"c","x":2479,"y":811},
{"p":169,"k":"c","x":2135,"y":826},{"p":169,"k":"c","x":2206,"y":811},{"p":169,"k":"c","x":2262,"y":817},{"p":169,"k":"c","x":2334,"y":864},{"p":169,"k":"c","x":2400,"y":880},{"p":169,"k":"c","x":2536,"y":904},
{"p":170,"k":"c","x":2155,"y":891},{"p":170,"k":"c","x":2211,"y":883},{"p":170,"k":"c","x":2277,"y":892},
{"p":171,"k":"m","x":2149,"y":533},{"p":171,"k":"m","x":2140,"y":670},{"p":171,"k":"m","x":2130,"y":735},
{"p":172,"k":"m","x":2149,"y":533},{"p":172,"k":"m","x":2150,"y":640}
]},"mark":{"type":"line","order":false,"strokeWidth":1.5},"encoding":{"detail":{"field":"p"},
"fill":{"field":"k","type":"nominal","legend":null,"scale":{"domain":["N","R","F","S","m","c"],"range":[
{"expr":"{gradient:'linear',x1:0,y1:0.1667,x2:0,y2:0.8333,stops:st}"},
{"expr":"{gradient:'linear',x1:0,y1:0.1667,x2:0.0978,y2:0.8187,stops:st}"},
{"expr":"{gradient:'linear',x1:0,y1:0.1667,x2:-0.104,y2:0.8167,stops:st}"},
{"expr":"{gradient:'linear',x1:0,y1:0.1667,x2:0.2815,y2:0.6785,stops:st}"},"transparent","transparent"]}},
"stroke":{"field":"k","type":"nominal","legend":null,"scale":{"domain":["N","R","F","S","m","c"],"range":["transparent","transparent","transparent","transparent","#8a8a8a","#444444"]}}}},
{"data":{"values":[{"t":"10","x":121,"y":237},{"t":"8","x":139,"y":386},{"t":"6","x":146,"y":534},{"t":"4","x":153,"y":681},{"t":"2","x":159,"y":828},{"t":"0","x":164,"y":966},{"t":"6","x":1823,"y":319},{"t":"4","x":1834,"y":540},{"t":"2","x":1844,"y":759},{"t":"0","x":1853,"y":964}]},"mark":{"type":"text","font":"Liberation Serif","fontWeight":"bold","fontSize":54,"align":"center","baseline":"middle"},"encoding":{"text":{"field":"t"}}},
{"data":{"values":[{"t":"50","x":128,"y":990},{"t":"40","x":242,"y":1028},{"t":"30","x":357,"y":1063},{"t":"20","x":480,"y":1104},{"t":"10","x":607,"y":1146},{"t":"0","x":754,"y":1187},{"t":"50","x":1821,"y":990},{"t":"40","x":1936,"y":1028},{"t":"30","x":2048,"y":1066},{"t":"20","x":2169,"y":1107},{"t":"10","x":2298,"y":1149},{"t":"0","x":2441,"y":1189},{"t":"65","x":925,"y":1184},{"t":"60","x":988,"y":1144},{"t":"55","x":1051,"y":1104},{"t":"50","x":1112,"y":1066},{"t":"45","x":1169,"y":1032},{"t":"40","x":1224,"y":999},{"t":"35","x":1272,"y":966},{"t":"30","x":1321,"y":935},{"t":"25","x":1370,"y":904},{"t":"65","x":2629,"y":1164},{"t":"60","x":2687,"y":1125},{"t":"55","x":2746,"y":1088},{"t":"50","x":2798,"y":1054},{"t":"45","x":2850,"y":1020},{"t":"40","x":2899,"y":990},{"t":"35","x":2945,"y":959},{"t":"30","x":2992,"y":930},{"t":"25","x":3038,"y":902}]},"mark":{"type":"text","font":"Liberation Serif","fontWeight":"bold","fontSize":38,"angle":20,"align":"center","baseline":"middle"},"encoding":{"text":{"field":"t"}}},
{"data":{"values":[{"t":"Abs Error (MPa)","x":75,"y":590},{"t":"Abs Error (MPa)","x":1784,"y":578}]},"mark":{"type":"text","font":"Liberation Serif","fontWeight":"bold","fontSize":72,"angle":88,"align":"center","baseline":"middle"},"encoding":{"text":{"field":"t"}}},
{"data":{"values":[{"t":"Data point","x":389,"y":1130},{"t":"Data point","x":2083,"y":1132}]},"mark":{"type":"text","font":"Liberation Serif","fontWeight":"bold","fontSize":62,"angle":17,"align":"center","baseline":"middle"},"encoding":{"text":{"field":"t"}}},
{"data":{"values":[{"t":"Predicated value (MPa)","x":1227,"y":1058},{"t":"Predicated value (MPa)","x":2893,"y":1060}]},"mark":{"type":"text","font":"Liberation Serif","fontWeight":"bold","fontSize":49,"angle":-30,"align":"center","baseline":"middle"},"encoding":{"text":{"field":"t"}}},
{"data":{"values":[{"t":"Abs Error","x":1417,"y":59},{"t":"Abs Error","x":3081,"y":62}]},"mark":{"type":"text","font":"Liberation Serif","fontWeight":"bold","fontSize":60,"align":"center","baseline":"middle"},"encoding":{"text":{"field":"t"}}},
{"data":{"values":[{"t":"(a)","x":816,"y":1344},{"t":"(b)","x":2482,"y":1341}]},"mark":{"type":"text","font":"Liberation Serif","fontWeight":"bold","fontSize":76,"align":"center","baseline":"middle"},"encoding":{"text":{"field":"t"}}}
],"resolve":{"scale":{"fill":"independent","stroke":"independent"},"legend":{"fill":"independent"}}}
